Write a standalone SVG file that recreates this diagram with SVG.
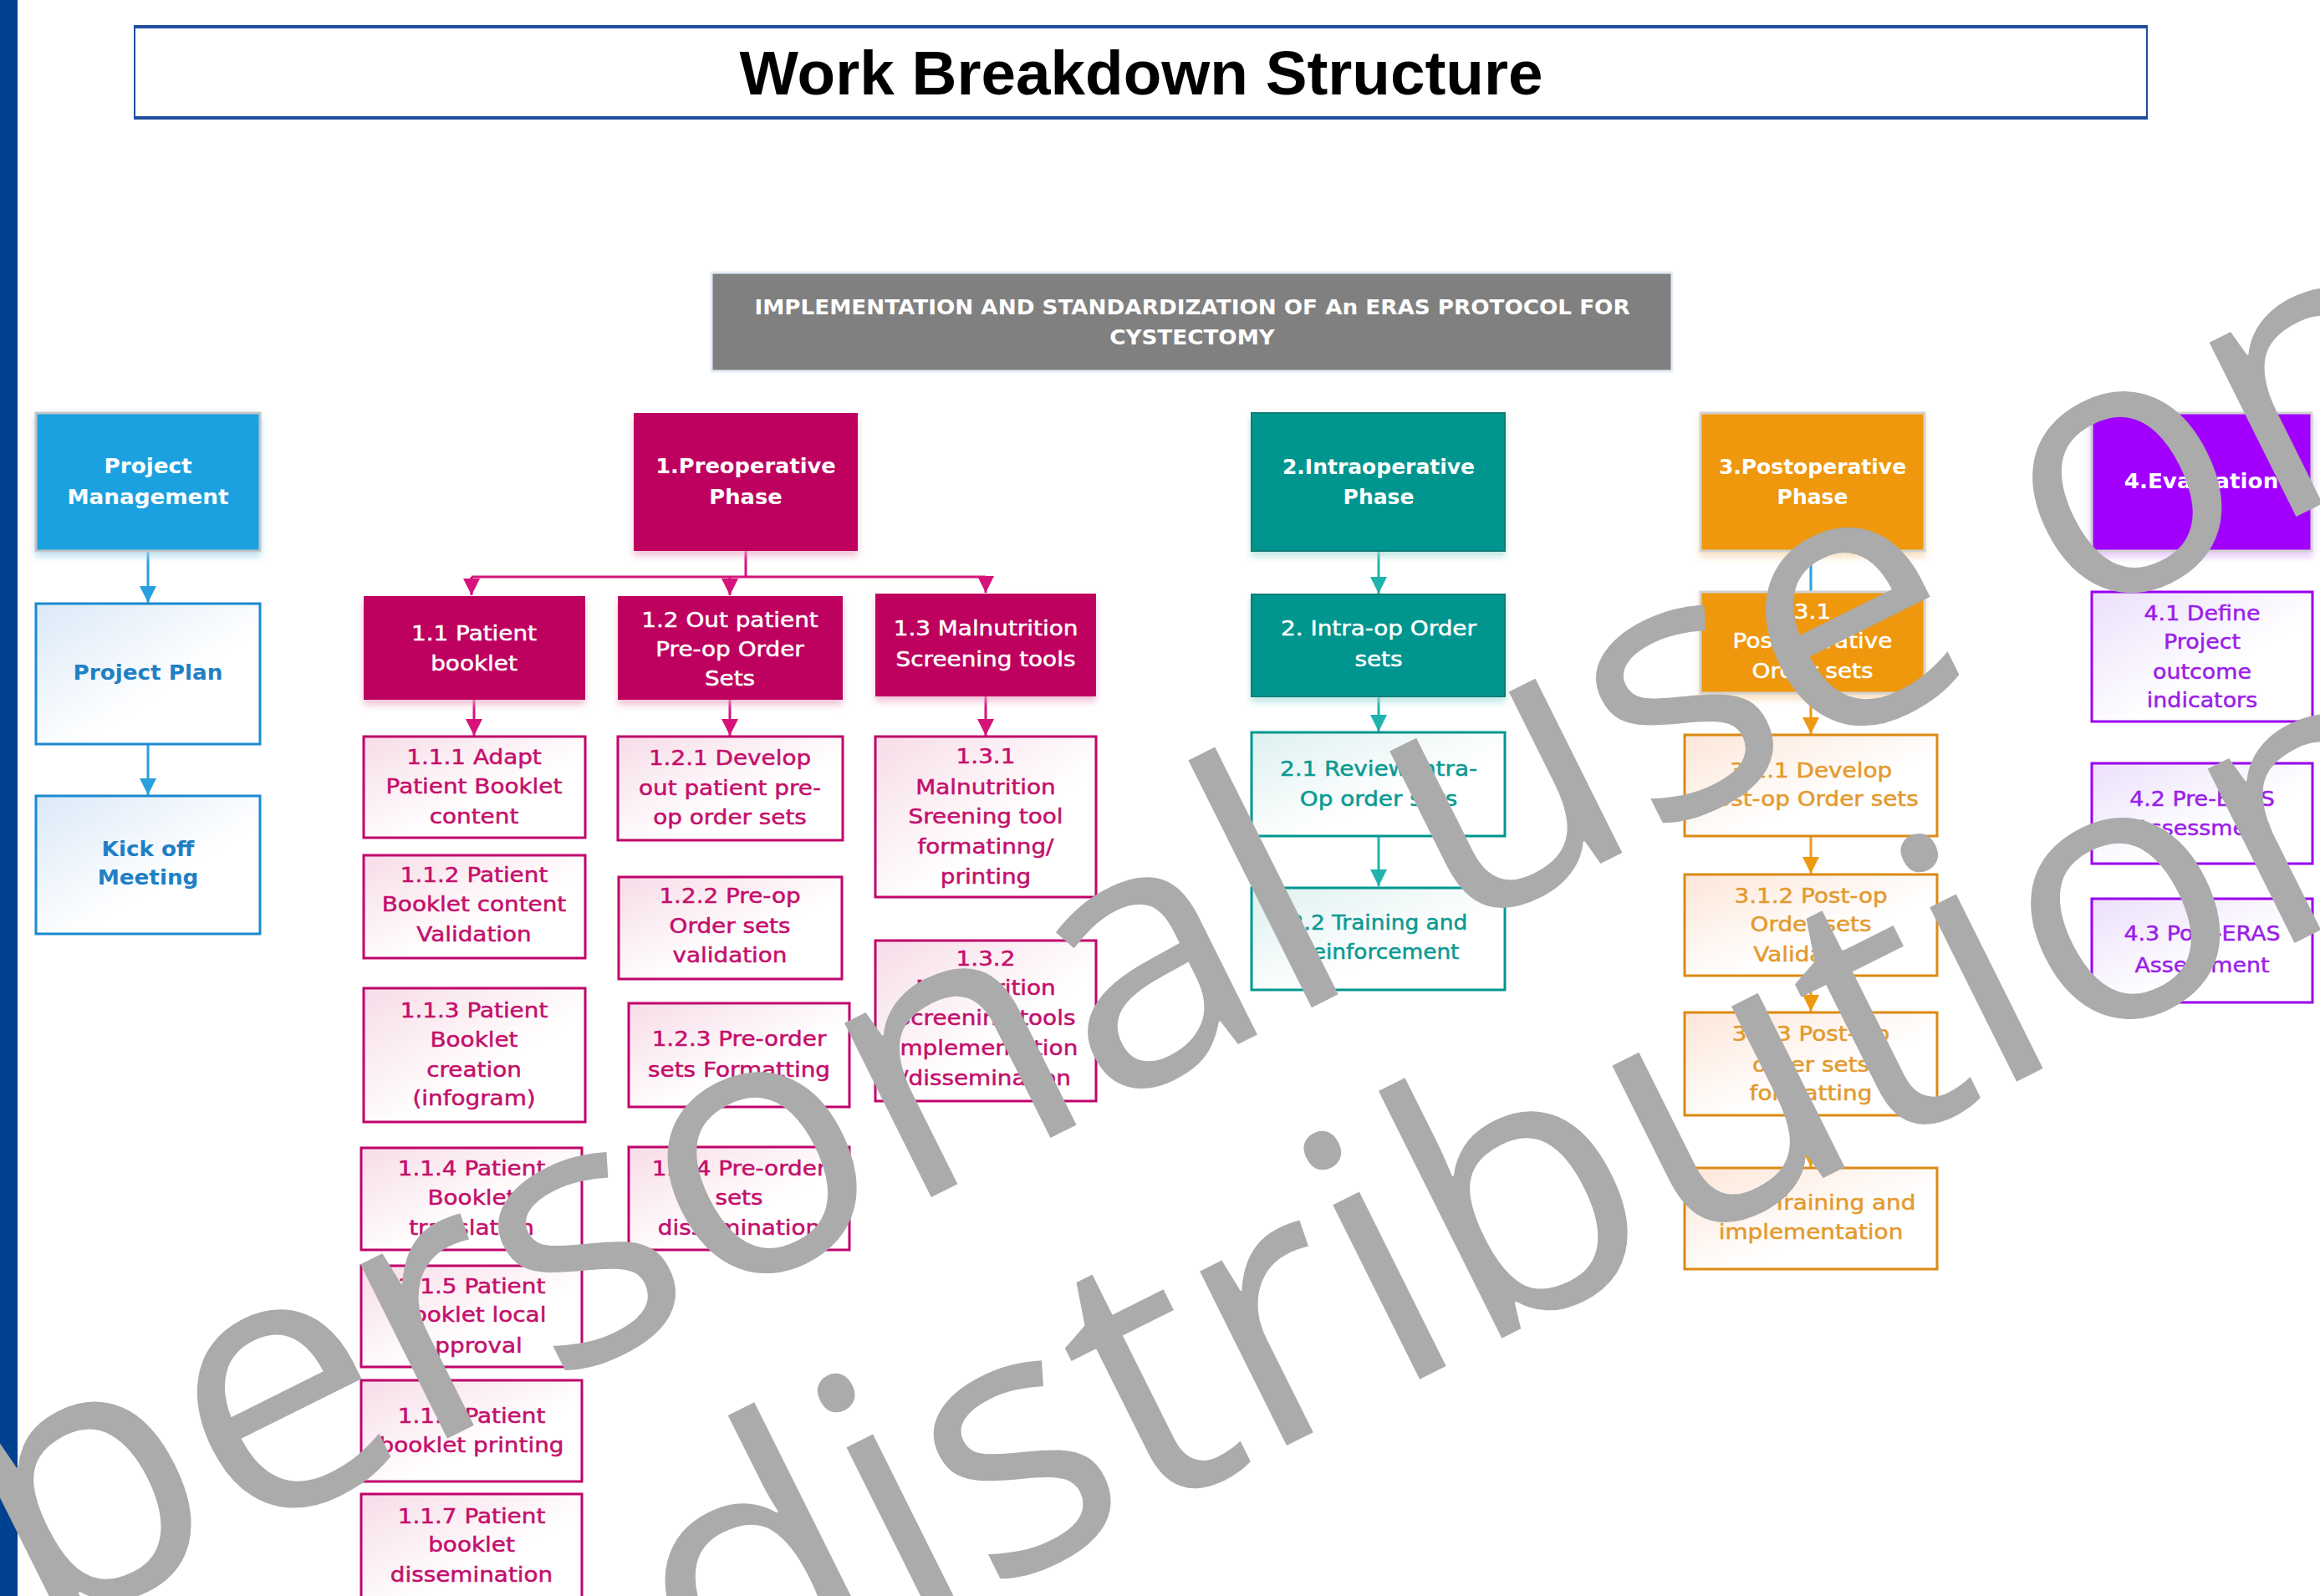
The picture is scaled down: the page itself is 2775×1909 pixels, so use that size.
<svg xmlns="http://www.w3.org/2000/svg" width="2775" height="1909" viewBox="0 0 2775 1909">
  <style>
    .bold { font-family: "DejaVu Sans", Verdana, sans-serif; font-weight: 700; font-size: 25px; text-anchor: middle; }
    .reg { font-family: "DejaVu Sans", Verdana, sans-serif; font-weight: 400; font-size: 24px; text-anchor: middle; stroke-width: 0.5px; }
    .white { fill: #ffffff; }
    .reg.white { stroke: #ffffff; }
    .c-mag { fill: #c40f6c; stroke: #c40f6c; }
    .c-teal { fill: #0b9a93; stroke: #0b9a93; }
    .c-org { fill: #e39a2e; stroke: #e39a2e; }
    .c-pur { fill: #9b1fe8; stroke: #9b1fe8; }
    .c-blue { fill: #1f80c4; }
    .box-mag { fill: url(#gMag); stroke: #c0046a; stroke-width: 3; }
    .box-teal { fill: url(#gTeal); stroke: #00968f; stroke-width: 3; }
    .box-org { fill: url(#gOrg); stroke: #dc8a12; stroke-width: 3; }
    .box-pur { fill: url(#gPur); stroke: #9a00ee; stroke-width: 3; }
    .box-blue { fill: url(#gBlue); stroke: #1a8ad0; stroke-width: 3; }
    .link { fill: none; stroke-width: 3; }
    .wm { font-family: "Open Sans", "DejaVu Sans", sans-serif; font-size: 435px; fill: #ababab; }
  </style>
  <defs>
    <linearGradient id="gMag" x1="0" y1="0" x2="1" y2="1"><stop offset="0" stop-color="#f7dce8"/><stop offset="0.6" stop-color="#ffffff"/></linearGradient>
    <linearGradient id="gTeal" x1="0" y1="0" x2="1" y2="1"><stop offset="0" stop-color="#def0f0"/><stop offset="0.6" stop-color="#ffffff"/></linearGradient>
    <linearGradient id="gOrg" x1="0" y1="0" x2="1" y2="1"><stop offset="0" stop-color="#fde6d8"/><stop offset="0.6" stop-color="#ffffff"/></linearGradient>
    <linearGradient id="gPur" x1="0" y1="0" x2="1" y2="1"><stop offset="0" stop-color="#ece0fb"/><stop offset="0.6" stop-color="#ffffff"/></linearGradient>
    <linearGradient id="gBlue" x1="0" y1="0" x2="1" y2="1"><stop offset="0" stop-color="#dbe9f8"/><stop offset="0.6" stop-color="#ffffff"/></linearGradient>
    <filter id="shMag" x="-10%" y="-10%" width="120%" height="140%"><feDropShadow dx="0" dy="6" stdDeviation="4" flood-color="#e9a8c6" flood-opacity="0.7"/></filter>
    <filter id="shBlue" x="-10%" y="-10%" width="120%" height="140%"><feDropShadow dx="0" dy="6" stdDeviation="4" flood-color="#a9d9f1" flood-opacity="0.7"/></filter>
    <filter id="shTeal" x="-10%" y="-10%" width="120%" height="140%"><feDropShadow dx="0" dy="6" stdDeviation="4" flood-color="#a3ddd9" flood-opacity="0.7"/></filter>
    <filter id="shOrg" x="-10%" y="-10%" width="120%" height="140%"><feDropShadow dx="0" dy="6" stdDeviation="4" flood-color="#f6d3a6" flood-opacity="0.7"/></filter>
    <filter id="shPur" x="-10%" y="-10%" width="120%" height="140%"><feDropShadow dx="0" dy="6" stdDeviation="4" flood-color="#ddb3f9" flood-opacity="0.7"/></filter>
    <marker id="ahMag" viewBox="0 0 10 10" refX="10" refY="5" markerWidth="20" markerHeight="20" markerUnits="userSpaceOnUse" orient="auto"><path d="M0,0 L10,5 L0,10 z" fill="#d6137a"/></marker>
    <marker id="ahBlue" viewBox="0 0 10 10" refX="10" refY="5" markerWidth="20" markerHeight="20" markerUnits="userSpaceOnUse" orient="auto"><path d="M0,0 L10,5 L0,10 z" fill="#2aa0dc"/></marker>
    <marker id="ahTeal" viewBox="0 0 10 10" refX="10" refY="5" markerWidth="20" markerHeight="20" markerUnits="userSpaceOnUse" orient="auto"><path d="M0,0 L10,5 L0,10 z" fill="#1fb3ac"/></marker>
    <marker id="ahOrg" viewBox="0 0 10 10" refX="10" refY="5" markerWidth="20" markerHeight="20" markerUnits="userSpaceOnUse" orient="auto"><path d="M0,0 L10,5 L0,10 z" fill="#ee9a10"/></marker>
  </defs>

  <rect width="2775" height="1909" fill="#ffffff"/>
  <!-- page edge bar -->
  <rect x="0" y="0" width="21" height="1909" fill="#004192"/>

  <!-- heading -->
  <g id="heading">
    <rect x="161" y="31" width="2407" height="111" fill="#ffffff" stroke="#1f4e9e" stroke-width="2"/>
    <line x1="161" y1="32" x2="2568" y2="32" stroke="#1f4e9e" stroke-width="4"/>
    <line x1="161" y1="141" x2="2568" y2="141" stroke="#1f4e9e" stroke-width="4"/>
    <text x="1365" y="113" font-family="'Liberation Sans', Arial, sans-serif" font-weight="700" font-size="75" text-anchor="middle" textLength="961" lengthAdjust="spacingAndGlyphs" fill="#000000">Work Breakdown Structure</text>
  </g>

  <!-- connectors -->
  <g id="connectors">
    <g stroke="#2aa0dc" class="link">
      <line x1="177" y1="660" x2="177" y2="721" marker-end="url(#ahBlue)"/>
      <line x1="177" y1="888" x2="177" y2="951" marker-end="url(#ahBlue)"/>
      <line x1="2166" y1="659" x2="2166" y2="708"/>
    </g>
    <g stroke="#d6137a" class="link">
      <path d="M892,659 V690 M564,690 H1179"/>
      <line x1="564" y1="690" x2="564" y2="712" marker-end="url(#ahMag)"/>
      <line x1="873" y1="690" x2="873" y2="712" marker-end="url(#ahMag)"/>
      <line x1="1179" y1="690" x2="1179" y2="709" marker-end="url(#ahMag)"/>
      <line x1="567" y1="837" x2="567" y2="880" marker-end="url(#ahMag)"/>
      <line x1="873" y1="837" x2="873" y2="880" marker-end="url(#ahMag)"/>
      <line x1="1179" y1="833" x2="1179" y2="880" marker-end="url(#ahMag)"/>
    </g>
    <g stroke="#1fb3ac" class="link">
      <line x1="1649" y1="659" x2="1649" y2="710" marker-end="url(#ahTeal)"/>
      <line x1="1649" y1="833" x2="1649" y2="875" marker-end="url(#ahTeal)"/>
      <line x1="1649" y1="996" x2="1649" y2="1060" marker-end="url(#ahTeal)"/>
    </g>
    <g stroke="#ee9a10" class="link">
      <line x1="2166" y1="829" x2="2166" y2="878" marker-end="url(#ahOrg)"/>
      <line x1="2166" y1="1000" x2="2166" y2="1045" marker-end="url(#ahOrg)"/>
      <line x1="2166" y1="1167" x2="2166" y2="1210" marker-end="url(#ahOrg)"/>
      <line x1="2166" y1="1334" x2="2166" y2="1396" marker-end="url(#ahOrg)"/>
    </g>
  </g>

  <!-- root -->
  <g id="root">
    <rect x="851" y="326" width="1149" height="118" fill="#808080" stroke="#e4ecf8" stroke-width="3"/>
    <g transform="translate(1426 0) scale(1.05 1)">
      <text class="bold white"><tspan x="0" y="376">IMPLEMENTATION AND STANDARDIZATION OF An ERAS PROTOCOL FOR</tspan><tspan x="0" y="412">CYSTECTOMY</tspan></text>
    </g>
  </g>

  <!-- project management column -->
  <g id="project-management">
    <rect x="43" y="494" width="268" height="165" fill="#1ea1e0" stroke="#c4c4c4" stroke-width="3" filter="url(#shBlue)"/>
    <g transform="translate(177 0) scale(1.05 1)"><text class="bold white"><tspan x="0" y="566">Project</tspan><tspan x="0" y="603">Management</tspan></text></g>
  </g>
  <g id="project-plan">
    <rect x="43" y="722" width="268" height="168" class="box-blue"/>
    <g transform="translate(177 0) scale(1.05 1)"><text class="bold c-blue"><tspan x="0" y="813">Project Plan</tspan></text></g>
  </g>
  <g id="kick-off">
    <rect x="43" y="952" width="268" height="165" class="box-blue"/>
    <g transform="translate(177 0) scale(1.05 1)"><text class="bold c-blue"><tspan x="0" y="1024">Kick off</tspan><tspan x="0" y="1058">Meeting</tspan></text></g>
  </g>

  <!-- 1. preoperative phase -->
  <g id="n1">
    <rect x="758" y="494" width="268" height="165" fill="#be005e" filter="url(#shMag)"/>
    <g transform="translate(892 0) scale(1.03 1)"><text class="bold white"><tspan x="0" y="566">1.Preoperative</tspan><tspan x="0" y="603">Phase</tspan></text></g>
  </g>
  <g id="n1-1">
    <rect x="435" y="713" width="265" height="124" fill="#be005e" filter="url(#shMag)"/>
    <g transform="translate(567 0) scale(1.16 1)"><text class="reg white"><tspan x="0" y="766">1.1 Patient</tspan><tspan x="0" y="802">booklet</tspan></text></g>
  </g>
  <g id="n1-2">
    <rect x="739" y="713" width="269" height="124" fill="#be005e" filter="url(#shMag)"/>
    <g transform="translate(873 0) scale(1.16 1)"><text class="reg white"><tspan x="0" y="750">1.2 Out patient</tspan><tspan x="0" y="785">Pre-op  Order</tspan><tspan x="0" y="820">Sets</tspan></text></g>
  </g>
  <g id="n1-3">
    <rect x="1047" y="710" width="264" height="123" fill="#be005e" filter="url(#shMag)"/>
    <g transform="translate(1179 0) scale(1.16 1)"><text class="reg white"><tspan x="0" y="760">1.3 Malnutrition</tspan><tspan x="0" y="797">Screening tools</tspan></text></g>
  </g>

  <g id="n1-1-1">
    <rect x="435" y="881" width="265" height="121" class="box-mag"/>
    <g transform="translate(567 0) scale(1.16 1)"><text class="reg c-mag"><tspan x="0" y="914">1.1.1 Adapt</tspan><tspan x="0" y="949">Patient Booklet</tspan><tspan x="0" y="985">content</tspan></text></g>
  </g>
  <g id="n1-1-2">
    <rect x="435" y="1023" width="265" height="123" class="box-mag"/>
    <g transform="translate(567 0) scale(1.16 1)"><text class="reg c-mag"><tspan x="0" y="1055">1.1.2 Patient</tspan><tspan x="0" y="1090">Booklet content</tspan><tspan x="0" y="1126">Validation</tspan></text></g>
  </g>
  <g id="n1-1-3">
    <rect x="435" y="1182" width="265" height="160" class="box-mag"/>
    <g transform="translate(567 0) scale(1.16 1)"><text class="reg c-mag"><tspan x="0" y="1217">1.1.3  Patient</tspan><tspan x="0" y="1252">Booklet</tspan><tspan x="0" y="1288">creation</tspan><tspan x="0" y="1322">(infogram)</tspan></text></g>
  </g>
  <g id="n1-1-4">
    <rect x="432" y="1373" width="264" height="122" class="box-mag"/>
    <g transform="translate(564 0) scale(1.16 1)"><text class="reg c-mag"><tspan x="0" y="1406">1.1.4  Patient</tspan><tspan x="0" y="1441">Booklet</tspan><tspan x="0" y="1477">translation</tspan></text></g>
  </g>
  <g id="n1-1-5">
    <rect x="432" y="1514" width="264" height="121" class="box-mag"/>
    <g transform="translate(564 0) scale(1.16 1)"><text class="reg c-mag"><tspan x="0" y="1547">1.1.5 Patient</tspan><tspan x="0" y="1581">Booklet local</tspan><tspan x="0" y="1618">approval</tspan></text></g>
  </g>
  <g id="n1-1-6">
    <rect x="432" y="1651" width="264" height="121" class="box-mag"/>
    <g transform="translate(564 0) scale(1.16 1)"><text class="reg c-mag"><tspan x="0" y="1702">1.1.6 Patient</tspan><tspan x="0" y="1737">booklet printing</tspan></text></g>
  </g>
  <g id="n1-1-7">
    <rect x="432" y="1787" width="264" height="135" class="box-mag"/>
    <g transform="translate(564 0) scale(1.16 1)"><text class="reg c-mag"><tspan x="0" y="1822">1.1.7 Patient</tspan><tspan x="0" y="1856">booklet</tspan><tspan x="0" y="1892">dissemination</tspan></text></g>
  </g>

  <g id="n1-2-1">
    <rect x="739" y="881" width="269" height="124" class="box-mag"/>
    <g transform="translate(873 0) scale(1.16 1)"><text class="reg c-mag"><tspan x="0" y="915">1.2.1 Develop</tspan><tspan x="0" y="951">out patient pre-</tspan><tspan x="0" y="986">op order sets</tspan></text></g>
  </g>
  <g id="n1-2-2">
    <rect x="740" y="1049" width="267" height="122" class="box-mag"/>
    <g transform="translate(873 0) scale(1.16 1)"><text class="reg c-mag"><tspan x="0" y="1080">1.2.2 Pre-op</tspan><tspan x="0" y="1116">Order sets</tspan><tspan x="0" y="1151">validation</tspan></text></g>
  </g>
  <g id="n1-2-3">
    <rect x="752" y="1200" width="264" height="124" class="box-mag"/>
    <g transform="translate(884 0) scale(1.16 1)"><text class="reg c-mag"><tspan x="0" y="1251">1.2.3 Pre-order</tspan><tspan x="0" y="1288">sets Formatting</tspan></text></g>
  </g>
  <g id="n1-2-4">
    <rect x="752" y="1372" width="264" height="123" class="box-mag"/>
    <g transform="translate(884 0) scale(1.16 1)"><text class="reg c-mag"><tspan x="0" y="1406">1.2.4 Pre-order</tspan><tspan x="0" y="1441">sets</tspan><tspan x="0" y="1477">dissemination</tspan></text></g>
  </g>

  <g id="n1-3-1">
    <rect x="1047" y="881" width="264" height="192" class="box-mag"/>
    <g transform="translate(1179 0) scale(1.16 1)"><text class="reg c-mag"><tspan x="0" y="913">1.3.1</tspan><tspan x="0" y="950">Malnutrition</tspan><tspan x="0" y="985">Sreening tool</tspan><tspan x="0" y="1021">formatinng/</tspan><tspan x="0" y="1057">printing</tspan></text></g>
  </g>
  <g id="n1-3-2">
    <rect x="1047" y="1125" width="264" height="192" class="box-mag"/>
    <g transform="translate(1179 0) scale(1.16 1)"><text class="reg c-mag"><tspan x="0" y="1155">1.3.2</tspan><tspan x="0" y="1190">Malnutrition</tspan><tspan x="0" y="1226">Screening tools</tspan><tspan x="0" y="1262">implementation</tspan><tspan x="0" y="1298">/dissemination</tspan></text></g>
  </g>

  <!-- 2. intraoperative phase -->
  <g id="n2">
    <rect x="1497" y="494" width="303" height="165" fill="#00968f" stroke="#0b7d78" stroke-width="2" filter="url(#shTeal)"/>
    <g transform="translate(1649 0)"><text class="bold white"><tspan x="0" y="567">2.Intraoperative</tspan><tspan x="0" y="603">Phase</tspan></text></g>
  </g>
  <g id="n2-0">
    <rect x="1497" y="711" width="303" height="122" fill="#00968f" stroke="#0b7d78" stroke-width="2" filter="url(#shTeal)"/>
    <g transform="translate(1649 0) scale(1.16 1)"><text class="reg white"><tspan x="0" y="760">2. Intra-op Order</tspan><tspan x="0" y="797">sets</tspan></text></g>
  </g>
  <g id="n2-1">
    <rect x="1497" y="876" width="303" height="124" class="box-teal"/>
    <g transform="translate(1649 0) scale(1.16 1)"><text class="reg c-teal"><tspan x="0" y="928">2.1 Review intra-</tspan><tspan x="0" y="964">Op order sets</tspan></text></g>
  </g>
  <g id="n2-2">
    <rect x="1497" y="1062" width="303" height="122" class="box-teal"/>
    <g transform="translate(1649 0) scale(1.1 1)"><text class="reg c-teal"><tspan x="0" y="1112">2.2 Training and</tspan><tspan x="0" y="1147">Reinforcement</tspan></text></g>
  </g>

  <!-- 3. postoperative phase -->
  <g id="n3">
    <rect x="2034" y="494" width="268" height="165" fill="#ef980c" stroke="#d2d2d2" stroke-width="3" filter="url(#shOrg)"/>
    <g transform="translate(2168 0)"><text class="bold white"><tspan x="0" y="567">3.Postoperative</tspan><tspan x="0" y="603">Phase</tspan></text></g>
  </g>
  <g id="n3-1">
    <rect x="2034" y="708" width="268" height="121" fill="#ef980c" stroke="#d2d2d2" stroke-width="3" filter="url(#shOrg)"/>
    <g transform="translate(2168 0) scale(1.16 1)"><text class="reg white"><tspan x="0" y="740">3.1</tspan><tspan x="0" y="775">Postoperative</tspan><tspan x="0" y="811">Order sets</tspan></text></g>
  </g>
  <g id="n3-1-1">
    <rect x="2015" y="879" width="302" height="121" class="box-org"/>
    <g transform="translate(2166 0) scale(1.16 1)"><text class="reg c-org"><tspan x="0" y="930">3.1.1 Develop</tspan><tspan x="0" y="964">Post-op Order sets</tspan></text></g>
  </g>
  <g id="n3-1-2">
    <rect x="2015" y="1046" width="302" height="121" class="box-org"/>
    <g transform="translate(2166 0) scale(1.16 1)"><text class="reg c-org"><tspan x="0" y="1080">3.1.2 Post-op</tspan><tspan x="0" y="1114">Order sets</tspan><tspan x="0" y="1150">Validation</tspan></text></g>
  </g>
  <g id="n3-1-3">
    <rect x="2015" y="1211" width="302" height="123" class="box-org"/>
    <g transform="translate(2166 0) scale(1.16 1)"><text class="reg c-org"><tspan x="0" y="1245">3.1.3 Post-Op</tspan><tspan x="0" y="1282">order sets</tspan><tspan x="0" y="1316">formatting</tspan></text></g>
  </g>
  <g id="n3-1-4">
    <rect x="2015" y="1397" width="302" height="121" class="box-org"/>
    <g transform="translate(2166 0) scale(1.16 1)"><text class="reg c-org"><tspan x="0" y="1447">3.1.4 Training and</tspan><tspan x="0" y="1482">implementation</tspan></text></g>
  </g>

  <!-- 4. evaluation -->
  <g id="n4">
    <rect x="2502" y="494" width="263" height="165" fill="#a100fe" stroke="#d2d2d2" stroke-width="3" filter="url(#shPur)"/>
    <g transform="translate(2633 0) scale(1.05 1)"><text class="bold white"><tspan x="0" y="584">4.Evaluation</tspan></text></g>
  </g>
  <g id="n4-1">
    <rect x="2502" y="708" width="264" height="155" class="box-pur"/>
    <g transform="translate(2634 0) scale(1.12 1)"><text class="reg c-pur"><tspan x="0" y="742">4.1 Define</tspan><tspan x="0" y="776">Project</tspan><tspan x="0" y="812">outcome</tspan><tspan x="0" y="846">indicators</tspan></text></g>
  </g>
  <g id="n4-2">
    <rect x="2502" y="913" width="264" height="120" class="box-pur"/>
    <g transform="translate(2634 0) scale(1.12 1)"><text class="reg c-pur"><tspan x="0" y="964">4.2 Pre-ERAS</tspan><tspan x="0" y="999">Assessment</tspan></text></g>
  </g>
  <g id="n4-3">
    <rect x="2502" y="1075" width="264" height="124" class="box-pur"/>
    <g transform="translate(2634 0) scale(1.12 1)"><text class="reg c-pur"><tspan x="0" y="1125">4.3 Post-ERAS</tspan><tspan x="0" y="1163">Assessment</tspan></text></g>
  </g>

  <!-- usage notice overlay -->
  <g id="watermark">
    <text class="wm" transform="translate(45 1965) rotate(-26.5)">personal use only</text>
    <text class="wm" transform="translate(845 2075) rotate(-26.5)">distribution</text>
  </g>
</svg>
